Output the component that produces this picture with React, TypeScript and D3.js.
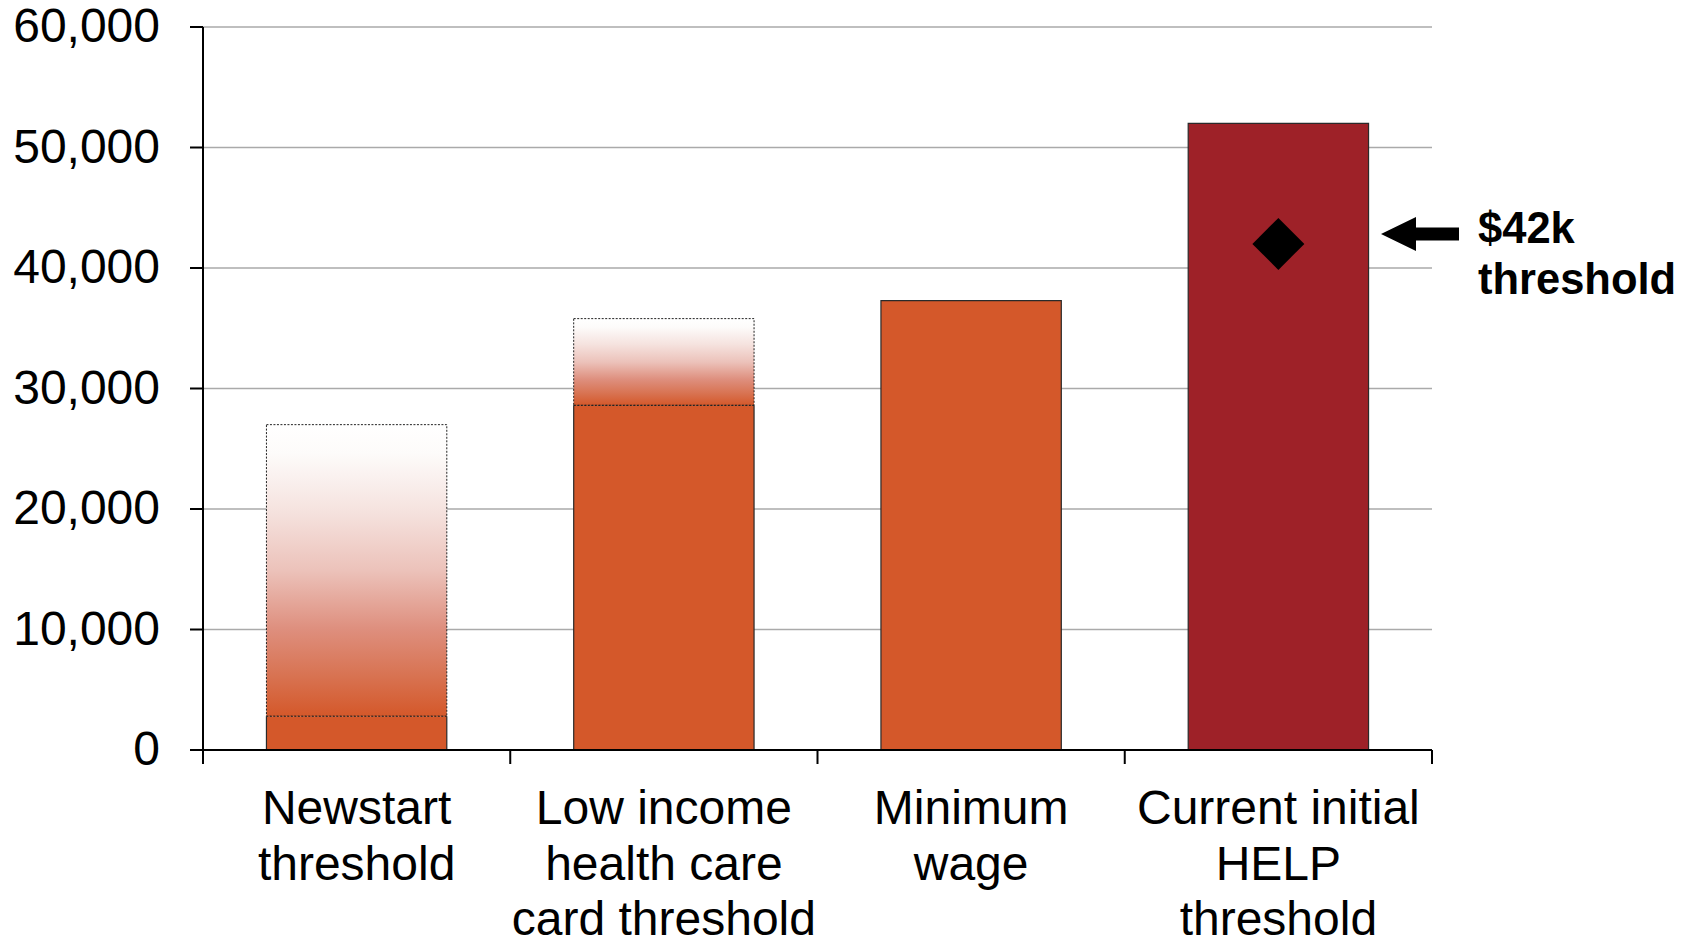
import React from "react";
import * as d3 from "d3";

const categories = ["Newstart", "LowIncome", "MinWage", "HELP"];
const categoryLabels = [
  ["Newstart", "threshold"],
  ["Low income", "health care", "card threshold"],
  ["Minimum", "wage"],
  ["Current initial", "HELP", "threshold"],
];
const solidValues = [2800, 28600, 37300, 52000];
const rangeTopValues: (number | null)[] = [27000, 35800, null, null];
const barColors = ["#d4582a", "#d4582a", "#d4582a", "#9e2128"];
const thresholdValue = 42000;
const yTicks = [0, 10000, 20000, 30000, 40000, 50000, 60000];
const annotationLines = ["$42k", "threshold"];

const W = 1694;
const H = 936;
const FONT = "'Liberation Sans', Arial, Helvetica, sans-serif";

export default function App() {
  const x = d3.scaleBand<string>().domain(categories).range([203, 1432]).padding(0);
  const y = d3.scaleLinear().domain([0, 60000]).range([750, 27]);
  const bw = x.bandwidth();
  const barW = bw * 0.587;
  const barOff = (bw - barW) / 2;
  const fmt = d3.format(",");
  const diamond = d3.symbol().type(d3.symbolSquare).size(1350)();
  const helpCx = (x("HELP") as number) + bw / 2;
  const arrowY = y(thresholdValue) - 10;

  return (
    <svg
      width={W}
      height={H}
      style={{ position: "absolute", left: 0, top: 0, background: "#fff" }}
      fontFamily={FONT}
    >
      <defs>
        <linearGradient id="fade" x1="0" y1="0" x2="0" y2="1">
          <stop offset="0" stopColor="#ffffff" />
          <stop offset="0.1" stopColor="#fdfbfa" />
          <stop offset="0.3" stopColor="#f5e2de" />
          <stop offset="0.5" stopColor="#ecc2ba" />
          <stop offset="0.7" stopColor="#de8f7e" />
          <stop offset="0.86" stopColor="#d87352" />
          <stop offset="1" stopColor="#d4582a" />
        </linearGradient>
      </defs>

      {/* gridlines */}
      {yTicks.filter((t) => t > 0).map((t) => (
        <line key={t} x1={203} x2={1432} y1={y(t)} y2={y(t)} stroke="#aaaaaa" strokeWidth={1.5} />
      ))}

      {/* bars */}
      {categories.map((c, i) => {
        const x0 = (x(c) as number) + barOff;
        const top = rangeTopValues[i];
        const sTop = y(solidValues[i]);
        const base = y(0);
        return (
          <g key={c}>
            {top !== null && (
              <rect
                x={x0}
                y={y(top)}
                width={barW}
                height={sTop - y(top)}
                fill="url(#fade)"
                stroke="#222"
                strokeWidth={1}
                strokeDasharray="2,1.5"
              />
            )}
            <rect x={x0} y={sTop} width={barW} height={base - sTop} fill={barColors[i]} />
            <path
              d={`M${x0},${base}V${sTop}${top === null ? `H${x0 + barW}` : `M${x0 + barW},${sTop}`}V${base}`}
              fill="none"
              stroke="#2a2a2a"
              strokeWidth={1.2}
            />
            {top !== null && (
              <line x1={x0} x2={x0 + barW} y1={sTop} y2={sTop} stroke="#222" strokeWidth={1.2} strokeDasharray="2,1.5" />
            )}
          </g>
        );
      })}

      {/* threshold diamond */}
      <path d={diamond as string} transform={`translate(${helpCx},${y(thresholdValue)}) rotate(45)`} fill="#000" />

      {/* arrow */}
      <path
        d={`M1381,${arrowY} L1416,${arrowY - 17} L1416,${arrowY - 6.5} L1459,${arrowY - 6.5} L1459,${arrowY + 6.5} L1416,${arrowY + 6.5} L1416,${arrowY + 17} Z`}
        fill="#000"
      />
      <text x={1478} y={243} fontSize={43.5} fontWeight="bold" fill="#000">
        {annotationLines.map((l, i) => (
          <tspan key={l} x={1478} dy={i === 0 ? 0 : 51}>{l}</tspan>
        ))}
      </text>

      {/* y axis */}
      <line x1={203} x2={203} y1={y(60000)} y2={y(0) + 14} stroke="#000" strokeWidth={2} />
      {yTicks.map((t) => (
        <g key={t}>
          <line x1={190} x2={203} y1={y(t)} y2={y(t)} stroke="#000" strokeWidth={2} />
          <text x={160} y={y(t) + 15} fontSize={48} textAnchor="end" fill="#000">
            {fmt(t)}
          </text>
        </g>
      ))}

      {/* x axis */}
      <line x1={190} x2={1432} y1={y(0)} y2={y(0)} stroke="#000" strokeWidth={2} />
      {[...categories.map((c) => x(c) as number), 1432].map((v, i) => (
        <line key={i} x1={v} x2={v} y1={y(0)} y2={y(0) + 14} stroke="#000" strokeWidth={2} />
      ))}
      {categories.map((c, i) => (
        <text key={c} x={(x(c) as number) + bw / 2} y={824} fontSize={48} textAnchor="middle" fill="#000">
          {categoryLabels[i].map((l, j) => (
            <tspan key={j} x={(x(c) as number) + bw / 2} dy={j === 0 ? 0 : 55.5}>{l}</tspan>
          ))}
        </text>
      ))}
    </svg>
  );
}
